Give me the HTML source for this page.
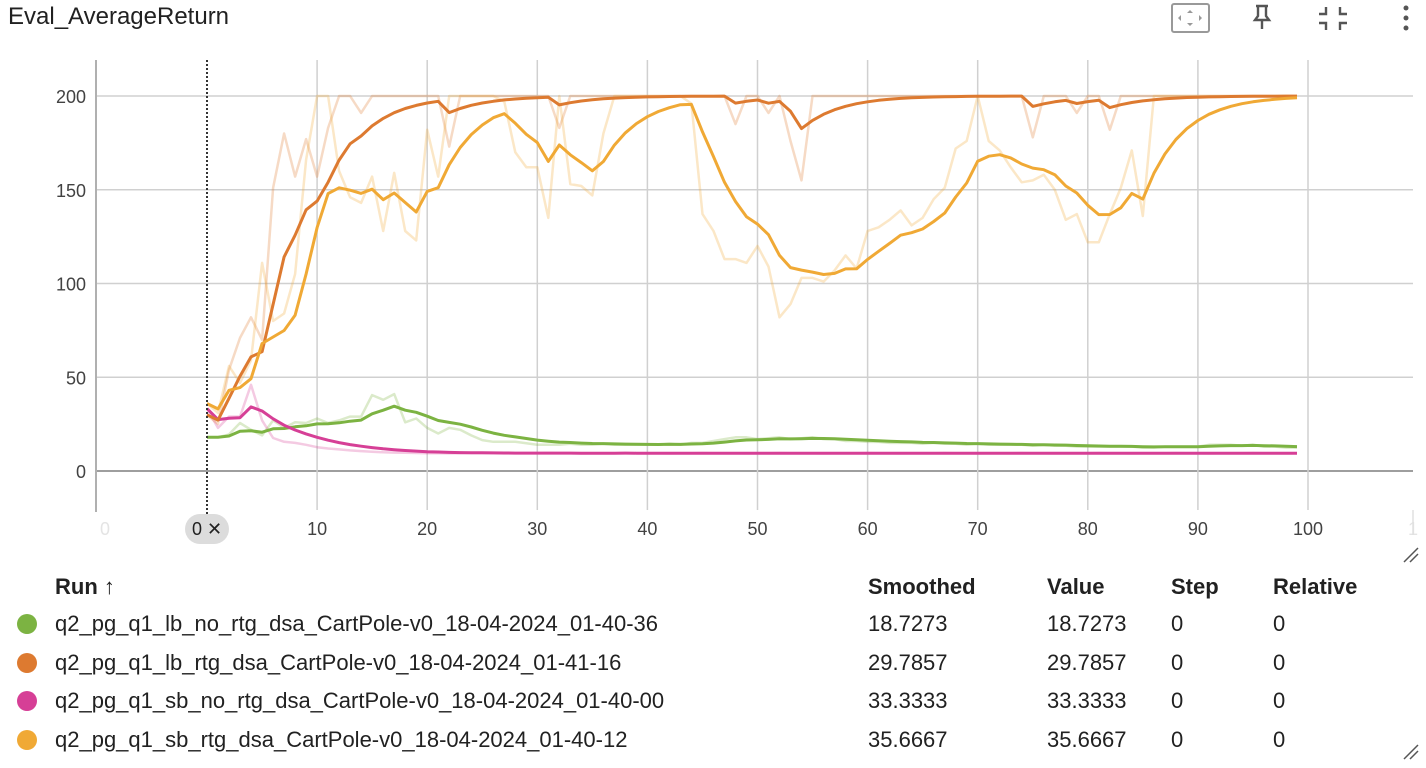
<!DOCTYPE html>
<html><head><meta charset="utf-8">
<style>
html,body{margin:0;padding:0;background:#fff;width:1426px;height:768px;overflow:hidden;font-family:"Liberation Sans",sans-serif;color:#212121}
.t{position:absolute;white-space:nowrap}
</style></head><body>
<div class="t" style="left:8px;top:3px;font-size:24px;">Eval_AverageReturn</div>
<svg style="position:absolute;left:0;top:0" width="1426" height="40">
 <g><rect x="1172" y="4" width="37" height="28" fill="none" stroke="#999" stroke-width="2" rx="2"/><path d="M1190 10 l-3 3 h6z M1190 26 l-3 -3 h6z M1178 18 l3 -3 v6z M1202 18 l-3 -3 v6z" fill="#999"/></g>
 <g fill="none" stroke="#555" stroke-width="2.4"><path d="M1256 6 h12 M1258 6 v10 l-3 4 h14 l-3 -4 v-10 M1262 20 v9"/></g>
 <g fill="none" stroke="#555" stroke-width="2.4"><path d="M1326 7 v7 h-7 M1340 7 v7 h7 M1326 30 v-7 h-7 M1340 30 v-7 h7"/></g>
 <g fill="#555"><circle cx="1406" cy="8" r="2.5"/><circle cx="1406" cy="18" r="2.5"/><circle cx="1406" cy="28" r="2.5"/></g>
</svg>
<svg id="chart" style="position:absolute;left:0;top:0" width="1426" height="560"></svg>
<div id="legend"></div>
<svg style="position:absolute;left:1400px;top:545px" width="22" height="20"><path d="M4 17 L18 3 M10 17 L18 9" stroke="#555" stroke-width="1.5"/></svg>
<svg style="position:absolute;left:1400px;top:742px" width="22" height="20"><path d="M4 17 L18 3 M10 17 L18 9" stroke="#555" stroke-width="1.5"/></svg>
<script>
const steps = Array.from({length:100},(_,i)=>i);
const yTicks = [0,50,100,150,200];
const xTicks = [10,20,30,40,50,60,70,80,90,100];
const lbNoRtg = [18,18,19.5,25.6,22,19,27,23,26,25.6, 28,25.6,27,29,29,40.5,38,41,26,28, 23,20,23,22,19,16.5,15.6,15.6,15.6,14.8, 14,14,14,14.5,14,14,14.5,14,14,14, 14,14,14.5,14,15,15,16,17,18,18, 17,17.5,18,17,17.5,18,17,17,16,16, 15.5,15.5,15,15,15,14.5,15,14.5,14.5,14, 14.5,14,14,14,14,13.5,14,13.5,13.5,13, 13,13,13,13,13,12.5,12.5,13,13,13, 13,14,14,14,13.5,14,13,13,12.5,12.5];
const lbRtg = [30,25,54,71,82,70,151,180,157,177, 157,183,200,200,191,200,200,200,200,200, 200,200,173,200,200,200,200,200,200,200, 200,200,183,200,200,200,200,200,200,200, 200,200,200,200,200,200,200,200,185,200, 200,191,200,176,155,200,200,200,200,200, 200,200,200,200,200,200,200,200,200,200, 200,200,200,200,200,178,200,200,200,191, 200,200,182,200,200,200,200,200,200,200, 200,200,200,200,200,200,200,200,200,200];
const sbNoRtg = [33.3,23,29,29,46,27,17.6,15.6,15,14, 12.7,12,11.5,11,10.6,10.3,10,9.8,9.7,9.6, 9.5,9.5,9.4,9.5,9.6,9.5,9.5,9.4,9.5,9.5, 9.5,9.6,9.5,9.5,9.4,9.5,9.5,9.5,9.6,9.5, 9.5,9.5,9.4,9.5,9.5,9.6,9.5,9.5,9.5,9.4, 9.5,9.5,9.6,9.5,9.5,9.5,9.4,9.5,9.5,9.5, 9.6,9.5,9.5,9.4,9.5,9.5,9.5,9.6,9.5,9.5, 9.4,9.5,9.5,9.5,9.6,9.5,9.5,9.4,9.5,9.5, 9.5,9.6,9.5,9.5,9.4,9.5,9.5,9.5,9.6,9.5, 9.5,9.4,9.5,9.5,9.5,9.6,9.5,9.5,9.4,9.5];
const sbRtg = [36,31,56,47,59,111,80,84,105,166, 200,200,160,146,143,157,128,159,128,123, 182,157,200,200,200,200,200,197,170,162, 162,135,200,153,152,147,180,200,200,200, 200,200,200,200,196,137,128,113,113,111, 120,109,82,89,103,103,101,107,115,108, 128,130,134,139,131,135,145,151,172,176, 200,176,171,162,154,155,158,150,134,137, 122,122,137,151,171,136,200,200,200,200, 200,200,200,200,200,200,200,200,200,200];
const runNames = ["q2_pg_q1_lb_no_rtg_dsa_CartPole-v0_18-04-2024_01-40-36","q2_pg_q1_lb_rtg_dsa_CartPole-v0_18-04-2024_01-41-16","q2_pg_q1_sb_no_rtg_dsa_CartPole-v0_18-04-2024_01-40-00","q2_pg_q1_sb_rtg_dsa_CartPole-v0_18-04-2024_01-40-12"];
const runColors = ["#7cb342","#dd7a30","#d63f96","#f0a935"];
const smoothing = 0.75;

const NS="http://www.w3.org/2000/svg";
const svg=document.getElementById('chart');
const X0=207, PX=11.01;
const xs=v=>X0+v*PX;
const ys=v=>471-v*1.875;
function mk(tag,attrs,parent){const e=document.createElementNS(NS,tag);for(const k in attrs)e.setAttribute(k,attrs[k]);(parent||svg).appendChild(e);return e;}
function ema(a){let last=0,out=[];a.forEach((v,i)=>{last=last*smoothing+(1-smoothing)*v;out.push(last/(1-Math.pow(smoothing,i+1)));});return out;}

yTicks.forEach(t=>{
 const l=mk('line',{x1:96,x2:1413,y1:ys(t),y2:ys(t),stroke:t===0?'#9e9e9e':'#d0d0d0','stroke-width':t===0?2:1.5});
 
 
 const tx=mk('text',{x:86,y:ys(t)+7,'text-anchor':'end','font-size':18,fill:'#424242','font-family':'Liberation Sans, sans-serif'});
 tx.textContent=t;
 
 
});
xTicks.forEach(t=>{
 const l=mk('line',{x1:xs(t),x2:xs(t),y1:60,y2:510,stroke:'#d0d0d0','stroke-width':1.5});
 
 
 const tx=mk('text',{x:xs(t),y:535,'text-anchor':'middle','font-size':18,fill:'#424242','font-family':'Liberation Sans, sans-serif'});
 tx.textContent=t;
 
 
});
[[105,'0'],[1413,'1']].forEach(([x,s])=>{const tx=mk('text',{x:x,y:535,'text-anchor':'middle','font-size':18,fill:'#e4e4e4','font-family':'Liberation Sans, sans-serif'});tx.textContent=s;
 
 });
const ax=mk('line',{x1:96,x2:96,y1:60,y2:512,stroke:'#b0b0b0','stroke-width':2});


const rb=mk('line',{x1:1413,x2:1413,y1:510,y2:535,stroke:'#e0e0e0','stroke-width':1.5});



const series=[lbNoRtg,lbRtg,sbNoRtg,sbRtg];
const order=[0,2,1,3];
order.forEach(i=>{
 const pts=series[i].map((v,k)=>xs(steps[k]).toFixed(1)+','+ys(v).toFixed(1)).join(' ');
 const p=mk('polyline',{points:pts,fill:'none',stroke:runColors[i],'stroke-width':2.5,'stroke-opacity':0.28,'stroke-linejoin':'round'});
 
 
});
order.forEach(i=>{
 const sm=ema(series[i]);
 const pts=sm.map((v,k)=>xs(steps[k]).toFixed(1)+','+ys(v).toFixed(1)).join(' ');
 const p=mk('polyline',{points:pts,fill:'none',stroke:runColors[i],'stroke-width':3,'stroke-linejoin':'round'});
 
 
});
const cl=mk('line',{x1:xs(0),x2:xs(0),y1:60,y2:515,stroke:'#333','stroke-width':2,'stroke-dasharray':'2,2'});


const pill=mk('rect',{x:xs(0)-22,y:514,width:44,height:30,rx:15,fill:'#dcdcdc'});


const pt=mk('text',{x:xs(0),y:535,'text-anchor':'middle','font-size':18,fill:'#212121','font-family':'Liberation Sans, sans-serif'});
pt.textContent='0 ✕';



const lg=document.getElementById('legend');


const hdr=[['Run ↑',55],['Smoothed',868],['Value',1047],['Step',1171],['Relative',1273]];
hdr.forEach(([s,x])=>{const d=document.createElement('div');d.className='t';d.style.cssText=`left:${x}px;top:574px;font-size:22px;font-weight:bold;`;d.textContent=s;
 
 
 lg.appendChild(d);});
const firstVals=['18.7273','29.7857','33.3333','35.6667'];
runNames.forEach((n,i)=>{
 const y=611+i*38.7;
 const c=document.createElement('div');c.className='t';c.style.cssText=`left:17px;top:${y+3}px;width:20px;height:20px;border-radius:50%;background:${runColors[i]};`;
 
 
 lg.appendChild(c);
 const vals=[[n,55],[firstVals[i],868],[firstVals[i],1047],['0',1171],['0',1273]];
 vals.forEach(([s,x])=>{const d=document.createElement('div');d.className='t';d.style.cssText=`left:${x}px;top:${y}px;font-size:22px;`;d.textContent=s;
  
  
  lg.appendChild(d);});
});
</script>
</body></html>
